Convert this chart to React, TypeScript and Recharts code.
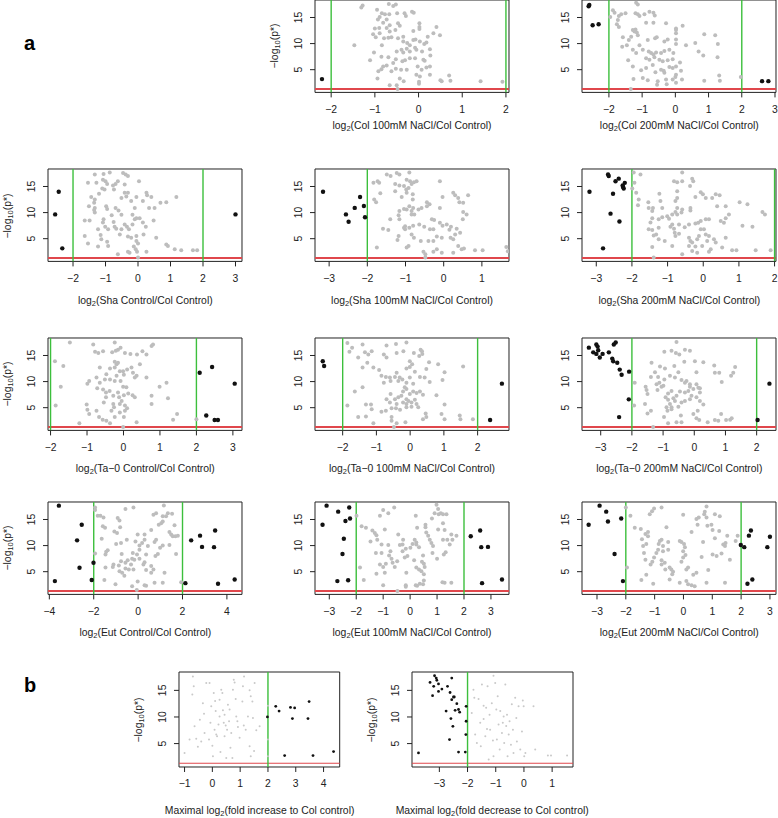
import { ScatterChart, Scatter, XAxis, YAxis, ReferenceLine, ReferenceArea } from "recharts";

type Pt = [number, number];

const yTicks = [5, 10, 15];
const pCutoff = 1.3;
const foldCutoffs = [-2, 2];

// a: Col 100mM NaCl / Col Control
const col100Grey: Pt[] = [
  [-1.28, 17.3], [-1.31, 16.9], [-0.68, 17.6], [-0.58, 17.2], [-0.52, 17.5], [-0.95, 16.5], [-0.84, 15.8], [-0.77, 15.6],
  [-0.89, 15.1], [-0.67, 15.6], [-0.49, 15.8], [-0.32, 15.8], [-0.29, 15.3], [-0.15, 16.1], [-0.11, 15.9], [-0.93, 14.6],
  [-0.73, 14.6], [-0.81, 14.0], [-0.66, 13.5], [-0.9, 13.0], [-0.73, 13.0], [-1.0, 12.9], [-1.04, 11.8], [-0.89, 12.0],
  [-0.66, 12.3], [-0.53, 12.6], [-0.47, 13.9], [-0.43, 13.4], [0.02, 13.9], [0.02, 13.2], [0.02, 12.8], [0.41, 13.2],
  [0.34, 12.0], [0.49, 11.6], [0.21, 11.3], [-0.12, 12.4], [-1.47, 9.7], [-0.98, 11.2], [-0.79, 11.0], [-0.69, 11.1],
  [-0.62, 11.2], [-0.47, 11.0], [-0.35, 11.3], [-0.35, 10.4], [-0.26, 10.1], [-0.2, 9.7], [-0.12, 10.7], [-0.07, 10.8],
  [0.03, 10.4], [0.13, 9.9], [0.18, 10.2], [-0.08, 9.2], [-0.27, 9.0], [-0.39, 8.8], [-0.5, 8.5], [-0.35, 8.3],
  [-0.2, 8.5], [-0.05, 8.8], [0.08, 8.5], [0.26, 8.9], [-1.02, 8.3], [-0.84, 9.7], [-1.11, 6.8], [-0.85, 7.5],
  [-0.69, 7.4], [-0.52, 7.0], [-0.31, 6.8], [-0.2, 7.2], [-0.08, 7.2], [0.11, 6.9], [0.14, 6.7], [0.27, 7.7],
  [-0.37, 6.6], [-0.73, 5.8], [-0.58, 6.3], [-0.81, 5.6], [-0.92, 4.7], [-0.85, 5.1], [-0.62, 4.7], [-0.52, 5.2],
  [-0.4, 5.0], [-0.27, 5.0], [-0.02, 5.6], [0.07, 5.0], [0.18, 5.4], [0.26, 5.6], [-0.05, 4.05], [0.03, 3.7],
  [0.26, 4.05], [-0.94, 3.3], [-0.43, 3.3], [-0.34, 2.8], [0.01, 2.7], [0.01, 2.3], [-0.66, 2.0], [-0.5, 2.0],
  [0.53, 2.8], [0.5, 3.0], [0.7, 3.9], [0.73, 2.9], [1.42, 2.8], [1.92, 2.7], [-0.48, 1.3],
];
const col100Sig: Pt[] = [[-2.21, 3.2]];

// a: Col 200mM NaCl / Col Control
const col200Grey: Pt[] = [
  [-1.88, 16.4], [-1.83, 15.9], [-1.96, 15.1], [-1.7, 15.3], [-1.63, 15.6], [-1.5, 15.8], [-1.73, 14.5], [-1.76, 13.7],
  [-1.7, 13.2], [-1.18, 17.8], [-1.13, 17.5], [-1.2, 15.8], [-1.13, 15.6], [-1.08, 15.3], [-0.93, 15.6], [-0.78, 16.1],
  [-0.66, 15.9], [-0.62, 15.4], [-0.88, 14.0], [-0.66, 14.0], [-0.28, 13.9], [-1.28, 12.6], [-1.2, 12.7], [-1.23, 12.3],
  [-1.16, 12.1], [-1.13, 11.6], [-1.33, 11.3], [-1.58, 11.2], [-1.4, 10.7], [-1.46, 9.7], [-1.6, 9.4], [-1.08, 9.7],
  [-0.83, 10.7], [-0.61, 11.0], [-0.56, 11.2], [-0.33, 10.4], [-0.23, 10.8], [0.02, 12.9], [0.02, 12.6], [0.22, 13.4],
  [0.02, 12.0], [0.02, 10.8], [0.02, 9.9], [0.32, 9.7], [0.6, 10.1], [0.87, 11.8], [1.2, 11.6], [1.28, 9.9],
  [0.7, 8.5], [0.84, 7.7], [1.27, 7.4], [-1.28, 8.8], [-1.18, 8.2], [-0.98, 8.8], [-0.8, 8.5], [-0.73, 8.2],
  [-0.66, 7.9], [-0.58, 8.3], [-0.43, 8.2], [-0.33, 8.6], [-0.18, 8.8], [-0.06, 8.2], [-0.88, 7.2], [-0.78, 6.9],
  [-0.63, 7.4], [-0.48, 6.9], [-0.38, 6.6], [-0.23, 6.8], [-0.08, 7.0], [0.14, 6.4], [-1.42, 6.8], [-1.28, 5.6],
  [-1.03, 4.9], [-0.88, 5.3], [-0.68, 5.9], [-0.6, 4.5], [-0.43, 5.0], [-0.35, 4.8], [-0.33, 4.4], [-0.18, 5.5],
  [-0.08, 5.3], [0.02, 5.6], [0.17, 4.8], [0.02, 4.05], [0.0, 3.6], [-0.08, 3.1], [-1.26, 3.2], [-0.98, 3.4],
  [-0.83, 3.0], [-0.53, 2.8], [-0.28, 3.1], [0.02, 2.5], [-0.26, 2.2], [-0.55, 2.1], [0.2, 3.1], [0.87, 2.9],
  [1.32, 3.9], [1.34, 2.9], [1.97, 3.6], [-1.34, 1.3],
];
const col200Sig: Pt[] = [[-2.61, 17.15], [-2.59, 17.4], [-2.49, 13.5], [-2.31, 13.7], [2.61, 2.8], [2.8, 2.8]];

// a: Sha Control / Col Control
const shaCtrlGrey: Pt[] = [
  [-1.33, 17.3], [-0.87, 17.7], [-1.06, 17.4], [-0.46, 17.6], [-0.38, 17.3], [-0.31, 17.0], [-1.54, 15.7], [-1.28, 15.7],
  [-1.08, 16.3], [-1.0, 16.0], [-0.95, 15.5], [-0.77, 15.2], [-0.62, 16.0], [-0.69, 15.5], [-0.41, 15.4], [0.03, 16.0],
  [-1.1, 14.6], [-1.03, 14.4], [-0.74, 14.4], [-0.41, 13.8], [-0.31, 13.8], [-1.2, 13.6], [-1.44, 13.0], [-1.33, 12.5],
  [-1.35, 11.9], [-1.51, 11.2], [-1.33, 10.9], [-1.35, 10.5], [-1.33, 10.0], [-0.98, 11.2], [-0.95, 10.7], [-0.69, 10.9],
  [-0.6, 10.4], [-0.51, 12.8], [-0.36, 13.1], [-0.21, 12.2], [-0.05, 13.0], [0.15, 12.2], [0.26, 13.8], [0.28, 13.3],
  [0.41, 13.0], [0.69, 11.9], [0.87, 12.0], [1.18, 13.0], [0.51, 10.9], [0.34, 10.9], [-0.1, 10.9], [-0.17, 9.6],
  [-0.51, 9.6], [-0.81, 9.5], [-1.06, 8.7], [-1.49, 8.5], [-1.64, 8.5], [-0.75, 8.2], [-1.08, 8.1], [-0.72, 7.3],
  [-0.41, 7.7], [-0.34, 7.3], [-0.17, 7.7], [-0.1, 8.7], [-0.05, 8.9], [0.05, 8.9], [0.15, 8.1], [0.24, 7.3],
  [0.48, 8.5], [-1.01, 7.3], [-1.23, 6.8], [-0.92, 6.8], [-0.67, 6.9], [-0.51, 6.8], [-0.28, 6.8], [-1.64, 5.5],
  [-1.15, 5.7], [-1.13, 4.9], [-0.56, 5.8], [-0.31, 5.4], [-0.21, 5.2], [-0.05, 5.5], [0.17, 5.8], [0.56, 5.2],
  [-1.54, 4.1], [-1.23, 3.5], [-0.95, 4.4], [-0.92, 3.6], [-0.05, 4.55], [0.0, 4.1], [-0.13, 3.5], [-0.07, 3.0],
  [-0.03, 2.5], [-0.31, 2.5], [-0.26, 2.3], [0.26, 2.5], [-0.62, 2.0], [0.87, 3.9], [0.92, 3.6], [1.13, 3.0],
  [1.33, 2.8], [1.69, 2.8], [1.82, 2.8], [0.0, 1.4],
];
const shaCtrlSig: Pt[] = [[-2.44, 14.0], [-2.55, 9.65], [-2.33, 3.15], [3.0, 9.65]];

// a: Sha 100mM NaCl / Col Control
const sha100Grey: Pt[] = [
  [-1.49, 17.3], [-1.39, 17.0], [-1.23, 17.6], [-1.16, 17.3], [-0.9, 17.7], [-1.84, 15.7], [-1.73, 16.0], [-1.69, 15.7],
  [-1.27, 15.5], [-1.16, 15.2], [-0.97, 16.3], [-0.88, 16.0], [-0.78, 15.8], [-0.71, 16.0], [-0.84, 15.5], [-0.1, 16.0],
  [-1.66, 13.7], [-1.27, 14.1], [-1.04, 15.1], [-0.98, 14.4], [-0.92, 14.7], [-0.97, 13.8], [-0.81, 13.5], [-0.81, 12.5],
  [-1.1, 13.0], [-1.82, 12.5], [-1.77, 12.0], [-0.44, 12.0], [-0.37, 11.6], [-0.44, 11.2], [0.25, 13.8], [0.3, 13.3],
  [0.38, 12.8], [0.41, 12.0], [0.51, 11.9], [0.64, 13.3], [-0.03, 13.0], [0.51, 10.1], [0.6, 9.65], [0.5, 8.7],
  [-0.1, 10.9], [-0.9, 11.2], [-1.04, 10.7], [-0.97, 10.6], [-0.84, 10.3], [-1.16, 10.3], [-0.8, 10.9], [-0.66, 10.6],
  [-0.58, 10.9], [-1.18, 9.5], [-1.4, 8.7], [-1.16, 8.7], [-0.84, 9.65], [-0.77, 9.65], [-1.01, 7.4], [-1.01, 6.8],
  [-1.04, 7.1], [-0.9, 7.1], [-0.8, 7.5], [-0.64, 7.7], [-0.51, 7.3], [-0.36, 6.8], [-0.27, 6.8], [-0.31, 8.7],
  [-0.25, 8.6], [-0.1, 8.05], [-0.03, 7.5], [0.08, 7.7], [0.15, 6.7], [0.19, 7.3], [0.34, 6.9], [0.43, 6.15],
  [0.3, 5.8], [0.25, 4.9], [0.18, 5.2], [-0.05, 5.2], [-0.18, 5.4], [-0.27, 4.55], [-0.4, 4.55], [-0.6, 4.55],
  [-0.78, 5.2], [-0.84, 5.8], [-0.92, 3.6], [-0.97, 3.3], [-1.18, 5.5], [-1.21, 4.75], [-1.45, 6.65], [-1.59, 6.9],
  [-1.75, 3.3], [-0.53, 2.5], [-0.48, 2.0], [-0.27, 2.5], [-0.18, 3.0], [-0.05, 2.3], [0.25, 2.3], [0.38, 3.6],
  [0.47, 3.0], [0.53, 3.1], [0.82, 2.8], [1.02, 2.8], [1.64, 3.4], [1.68, 2.6], [-0.48, 1.4],
];
const sha100Sig: Pt[] = [[-3.16, 14.0], [-2.19, 13.0], [-2.33, 10.9], [-2.56, 9.65], [-2.49, 8.25], [-2.09, 11.25], [-2.06, 9.1]];

// a: Sha 200mM NaCl / Col Control
const sha200Grey: Pt[] = [
  [-1.95, 17.7], [-1.76, 17.3], [-1.99, 14.6], [-1.93, 15.7], [-1.88, 13.8], [-1.81, 12.5], [-1.83, 11.4], [-1.54, 12.0],
  [-1.53, 10.9], [-1.41, 10.9], [-1.43, 10.3], [-1.2, 12.2], [-1.23, 13.6], [-1.15, 10.9], [-1.48, 8.1], [-1.43, 8.9],
  [-1.25, 8.7], [-1.15, 9.1], [-1.01, 9.3], [-0.96, 8.8], [-0.87, 9.65], [-0.78, 10.1], [-0.73, 9.65], [-0.61, 10.0],
  [-0.59, 10.6], [-0.73, 10.9], [-0.78, 12.2], [-0.73, 12.8], [-0.73, 14.1], [-0.82, 16.0], [-0.73, 15.8], [-0.59, 17.7],
  [-0.59, 16.0], [-0.31, 16.5], [-0.28, 16.0], [-0.37, 15.1], [-0.22, 13.0], [-0.36, 10.9], [-0.36, 10.4], [-0.07, 13.9],
  [-0.01, 13.5], [0.07, 12.8], [0.25, 12.8], [0.35, 13.5], [0.46, 13.3], [0.39, 11.2], [0.63, 11.2], [0.72, 9.65],
  [0.49, 8.4], [0.63, 8.9], [0.58, 8.05], [1.02, 12.0], [1.24, 11.6], [1.1, 7.5], [1.38, 7.3], [1.66, 10.1],
  [1.73, 9.65], [-0.22, 7.9], [-0.14, 8.05], [-0.07, 8.4], [0.07, 8.7], [0.16, 8.7], [-0.4, 7.7], [-0.52, 7.2],
  [-0.68, 7.7], [-0.87, 7.7], [-0.92, 7.3], [-0.82, 6.9], [-0.8, 6.15], [-0.68, 5.95], [-0.78, 5.5], [-1.43, 6.65],
  [-1.53, 6.8], [-1.25, 7.1], [-1.32, 5.8], [-1.39, 5.6], [-1.25, 4.9], [-1.08, 4.55], [-0.87, 3.6], [-1.43, 3.4],
  [-1.39, 1.4], [-0.4, 5.2], [-0.36, 4.55], [-0.31, 4.25], [-0.17, 4.9], [-0.12, 5.5], [-0.07, 6.8], [0.02, 6.8],
  [0.07, 5.8], [0.16, 5.5], [0.3, 4.9], [0.35, 4.25], [0.11, 4.55], [-0.03, 3.6], [-0.22, 3.5], [-0.4, 3.6],
  [-0.59, 2.0], [-0.31, 2.65], [-0.17, 2.3], [0.16, 2.5], [0.21, 3.0], [0.53, 3.3], [0.63, 5.2], [0.81, 2.8],
  [0.93, 2.8], [1.47, 2.8], [1.89, 2.8],
];
const sha200Sig: Pt[] = [
  [-3.19, 14.0], [-2.67, 17.3], [-2.65, 17.0], [-2.46, 16.0], [-2.37, 16.5], [-2.2, 15.7], [-2.26, 15.2], [-2.25, 14.9],
  [-2.23, 14.6], [-2.53, 13.6], [-2.6, 9.8], [-2.35, 8.3], [-2.81, 3.15],
];

// a: Ta-0 Control / Col Control
const ta0CtrlGrey: Pt[] = [
  [-1.47, 17.5], [-0.83, 17.1], [-0.24, 17.5], [0.77, 16.8], [0.81, 17.1], [-1.88, 13.9], [-1.65, 13.0], [-1.72, 9.0],
  [-1.86, 5.4], [-0.78, 15.7], [-0.69, 15.5], [-0.56, 15.8], [-0.31, 15.6], [-0.21, 15.9], [-0.15, 16.1], [-0.08, 16.5],
  [0.04, 15.5], [0.19, 15.3], [0.37, 15.2], [0.52, 15.8], [0.63, 15.2], [-0.65, 12.7], [-0.74, 10.8], [-0.94, 10.1],
  [-0.99, 9.6], [-0.72, 8.7], [-0.65, 9.8], [-0.51, 10.4], [-0.37, 10.4], [-0.47, 11.4], [-0.37, 12.5], [-0.24, 13.8],
  [-0.19, 13.3], [-0.15, 13.6], [-0.24, 12.7], [-0.1, 12.0], [-0.01, 12.0], [0.1, 12.3], [0.22, 12.7], [0.26, 11.7],
  [0.01, 11.3], [-0.19, 11.1], [-0.24, 10.1], [-0.08, 10.1], [-0.01, 9.0], [0.08, 8.9], [0.31, 10.8], [0.36, 11.1],
  [0.45, 13.3], [0.63, 10.8], [0.99, 9.0], [1.18, 9.8], [1.22, 6.8], [0.77, 7.3], [0.77, 5.7], [-0.56, 8.5],
  [-0.48, 7.9], [-0.38, 8.2], [-0.28, 7.3], [-0.15, 7.9], [-0.12, 7.0], [-0.05, 6.3], [0.01, 7.4], [0.13, 7.7],
  [0.25, 7.4], [0.31, 7.0], [-1.01, 5.6], [-0.99, 4.6], [-0.94, 3.8], [-0.74, 4.4], [-0.67, 3.2], [-0.54, 6.0],
  [-0.48, 7.0], [-0.28, 5.7], [-0.26, 5.1], [-0.1, 5.7], [0.04, 5.4], [0.1, 4.9], [0.04, 4.4], [-0.1, 4.1],
  [-0.33, 4.4], [-0.47, 2.5], [-0.57, 2.7], [-0.24, 3.2], [0.01, 3.2], [-0.37, 2.0], [-1.21, 2.0], [0.36, 2.2],
  [1.36, 2.7], [1.47, 3.8], [2.0, 2.8], [-0.01, 1.3],
];
const ta0CtrlSig: Pt[] = [[2.09, 11.7], [2.43, 12.8], [3.05, 9.6], [2.27, 3.5], [2.5, 2.65], [2.59, 2.65]];

// a: Ta-0 100mM NaCl / Col Control
const ta0100Grey: Pt[] = [
  [-1.86, 17.4], [-1.72, 16.5], [-1.8, 15.7], [-1.41, 17.1], [-0.7, 16.9], [-0.42, 17.2], [-0.11, 17.5], [-1.34, 15.6],
  [-1.24, 15.2], [-1.14, 15.8], [-1.54, 14.6], [-1.27, 13.6], [-1.41, 12.7], [-1.09, 12.7], [-0.78, 15.2], [-0.7, 14.6],
  [-0.4, 15.5], [-0.2, 15.8], [0.11, 15.5], [0.31, 16.1], [0.35, 15.8], [0.36, 15.3], [0.27, 14.9], [0.56, 13.7],
  [0.83, 13.3], [1.57, 12.9], [-0.01, 13.9], [0.06, 13.3], [-0.01, 12.8], [-0.11, 12.5], [0.14, 11.9], [0.29, 10.9],
  [0.43, 10.8], [0.48, 12.4], [0.58, 9.9], [0.96, 10.3], [1.02, 11.8], [0.78, 7.4], [-0.92, 12.2], [-0.85, 11.1],
  [-0.72, 10.9], [-0.6, 10.8], [-0.78, 9.8], [-0.58, 10.1], [-0.4, 11.7], [-0.45, 10.9], [-0.31, 10.8], [-0.35, 10.1],
  [-0.23, 10.4], [-0.11, 9.8], [-0.01, 10.8], [0.09, 9.6], [-0.16, 8.9], [-0.11, 8.6], [-0.21, 8.1], [-0.01, 7.6],
  [0.09, 8.1], [0.19, 7.8], [0.29, 8.1], [0.38, 7.5], [-0.26, 7.3], [-0.35, 7.0], [-0.45, 6.6], [-0.58, 7.6],
  [-0.7, 6.6], [-0.6, 6.0], [-0.4, 5.7], [-0.21, 6.0], [-0.11, 6.6], [-0.05, 6.3], [0.04, 6.0], [0.14, 6.5],
  [0.19, 5.7], [0.24, 5.1], [0.04, 5.2], [-0.11, 5.7], [-0.55, 4.9], [-0.42, 4.9], [-0.3, 4.6], [-0.11, 5.1],
  [-1.41, 8.9], [-1.64, 8.1], [-1.31, 5.6], [-1.16, 5.6], [-1.14, 4.7], [-0.85, 4.2], [-0.72, 4.4], [-1.86, 5.4],
  [-1.54, 3.2], [-1.31, 3.3], [-1.09, 2.0], [-0.55, 3.2], [-0.55, 2.5], [-0.4, 2.0], [-0.14, 2.2], [0.38, 2.8],
  [0.48, 3.2], [0.46, 3.9], [0.93, 3.8], [1.02, 2.8], [1.02, 5.6], [1.47, 3.5], [1.49, 2.8], [1.86, 2.8],
  [-0.48, 1.3],
];
const ta0100Sig: Pt[] = [[-2.59, 13.9], [-2.55, 13.0], [2.72, 9.6], [2.37, 2.65]];

// a: Ta-0 200mM NaCl / Col Control
const ta0200Grey: Pt[] = [
  [-1.91, 9.8], [-1.93, 5.4], [-1.56, 9.0], [-1.53, 8.4], [-1.5, 7.6], [-1.58, 5.7], [-1.5, 3.9], [-1.39, 4.4],
  [-1.18, 8.4], [-1.21, 9.5], [-1.12, 9.8], [-1.16, 10.9], [-1.39, 10.9], [-1.37, 13.6], [-1.26, 11.8], [-1.05, 9.0],
  [-0.99, 9.2], [-0.84, 7.7], [-0.73, 8.2], [-0.92, 7.0], [-0.84, 6.5], [-0.67, 6.8], [-0.62, 6.3], [-0.78, 5.7],
  [-0.73, 5.1], [-0.73, 4.7], [-0.51, 5.2], [-0.41, 6.0], [-0.57, 7.3], [-0.46, 8.1], [-0.3, 7.9], [-0.19, 8.2],
  [-0.09, 7.3], [-0.03, 8.6], [0.13, 8.8], [0.18, 7.9], [0.07, 7.0], [0.18, 6.3], [0.29, 5.6], [0.11, 4.4],
  [-0.03, 3.8], [-0.43, 3.5], [-0.97, 3.2], [-0.84, 2.0], [-0.57, 2.2], [-0.41, 2.2], [0.07, 3.0], [0.16, 2.65],
  [0.43, 2.2], [0.66, 2.65], [0.77, 2.5], [1.02, 2.65], [1.15, 2.7], [1.2, 3.0], [0.86, 3.8], [-0.96, 15.7],
  [-0.73, 15.9], [-0.59, 15.5], [-0.48, 15.2], [-0.57, 17.6], [-0.3, 16.1], [-0.14, 15.9], [-0.32, 13.8], [0.02, 13.9],
  [0.29, 13.7], [0.64, 13.1], [0.66, 11.7], [0.8, 11.7], [0.88, 9.9], [1.18, 11.1], [1.25, 11.7], [1.31, 12.8],
  [-1.1, 12.9], [-0.94, 12.5], [-0.78, 11.1], [-0.62, 10.8], [-0.41, 10.3], [-0.25, 10.1], [-0.14, 9.5], [0.07, 9.5],
  [0.18, 8.7], [-0.96, 10.4], [-0.64, 13.0], [-0.51, 11.8], [0.07, 11.8], [-0.3, 9.8], [-0.14, 9.0], [-0.3, 6.3],
  [-0.14, 6.6], [-0.89, 5.1], [-0.86, 4.4], [-1.32, 1.3],
];
const ta0200Sig: Pt[] = [
  [-3.38, 16.5], [-3.24, 15.6], [-3.14, 17.1], [-3.1, 16.7], [-3.08, 16.0], [-3.14, 15.3], [-3.03, 14.6], [-2.94, 15.3],
  [-2.74, 15.6], [-2.63, 14.4], [-2.6, 13.9], [-2.58, 17.1], [-2.52, 17.5], [-2.47, 13.6], [-2.39, 12.3], [-2.33, 11.3],
  [-2.09, 11.9], [-2.1, 6.6], [-2.41, 3.2], [2.41, 9.6], [2.03, 2.65],
];

// a: Eut Control / Col Control
const eutCtrlGrey: Pt[] = [
  [-1.94, 17.3], [-1.94, 16.8], [-1.82, 15.7], [-1.7, 15.7], [-1.56, 15.4], [-1.59, 13.7], [-1.49, 13.4], [-1.64, 11.3],
  [-1.94, 8.5], [-1.44, 8.8], [-1.37, 9.1], [-1.07, 12.7], [-0.95, 12.4], [-0.99, 10.3], [-0.92, 15.3], [-0.84, 14.8],
  [-0.81, 13.5], [-0.77, 10.5], [-0.57, 17.0], [-0.21, 17.3], [-0.51, 11.1], [-0.74, 8.4], [-0.77, 7.0], [-0.87, 6.2],
  [-1.11, 6.4], [-1.14, 5.9], [-0.84, 5.1], [-0.72, 4.8], [-0.57, 5.6], [-0.42, 5.4], [-0.21, 5.4], [-0.32, 6.4],
  [-0.57, 6.7], [-0.47, 7.2], [-0.27, 7.5], [-0.17, 7.3], [0.06, 7.5], [-0.05, 8.3], [-0.24, 8.6], [0.06, 9.2],
  [0.06, 10.0], [0.18, 10.5], [0.29, 11.1], [-0.02, 12.1], [-0.12, 10.8], [0.29, 12.1], [0.44, 9.9], [0.36, 8.3],
  [0.29, 6.8], [0.24, 6.4], [0.36, 5.3], [0.59, 6.1], [0.59, 4.8], [0.69, 5.4], [0.78, 8.0], [0.89, 8.4],
  [0.99, 9.6], [1.11, 10.0], [0.74, 10.7], [0.81, 11.1], [0.59, 13.0], [0.69, 15.9], [0.81, 16.2], [0.93, 14.0],
  [1.04, 14.3], [1.11, 14.6], [1.11, 15.6], [1.26, 15.6], [1.16, 17.7], [1.34, 16.2], [1.53, 16.1], [1.41, 12.6],
  [1.49, 12.1], [1.56, 11.8], [1.41, 10.1], [1.68, 11.8], [1.64, 13.9], [1.71, 8.4], [1.79, 11.9], [1.94, 3.0],
  [1.19, 4.8], [1.11, 2.9], [0.74, 2.9], [0.36, 2.3], [0.29, 2.4], [-0.02, 3.1], [-0.27, 2.2], [-0.62, 4.2],
  [-1.02, 2.6], [-1.52, 3.4], [-1.47, 5.8], [-1.47, 8.3], [-0.06, 1.5],
];
const eutCtrlSig: Pt[] = [
  [-3.57, 17.65], [-2.54, 14.0], [-2.75, 11.0], [-2.64, 5.76], [-2.01, 6.7], [-2.09, 3.4], [-3.75, 3.2], [2.39, 11.0],
  [2.79, 11.9], [2.88, 9.75], [3.47, 12.9], [3.42, 9.7], [3.6, 2.7], [4.35, 3.5], [2.13, 2.8],
];

// a: Eut 100mM NaCl / Col Control
const eut100Grey: Pt[] = [
  [-1.99, 15.7], [-1.86, 5.8], [-1.72, 3.4], [-1.8, 13.7], [-1.64, 13.4], [-1.4, 12.9], [-1.31, 12.4], [-1.25, 12.0],
  [-1.47, 10.8], [-1.27, 8.6], [-1.22, 11.1], [-1.12, 15.7], [-1.0, 16.8], [-0.81, 16.2], [-0.59, 17.3], [-0.94, 13.1],
  [-1.06, 10.2], [-1.06, 8.6], [-1.12, 6.4], [-1.25, 4.6], [-1.0, 5.9], [-0.94, 4.8], [-0.9, 6.5], [-0.81, 10.1],
  [-0.73, 8.9], [-0.78, 8.1], [-0.69, 7.5], [-0.65, 6.7], [-0.57, 5.9], [-0.48, 7.0], [-0.44, 12.1], [-0.26, 11.1],
  [-0.28, 10.2], [-0.38, 10.1], [-0.28, 8.9], [-0.16, 9.4], [-0.2, 7.7], [-0.1, 8.0], [-0.14, 4.8], [0.01, 9.6],
  [0.09, 10.3], [0.17, 11.1], [0.23, 10.6], [0.26, 13.4], [0.21, 15.7], [0.23, 10.2], [0.33, 9.7], [0.15, 7.2],
  [0.23, 5.8], [0.33, 5.4], [0.48, 8.1], [0.44, 6.9], [0.51, 6.5], [0.54, 5.9], [0.42, 5.1], [0.51, 4.5],
  [0.57, 14.0], [0.57, 13.5], [0.6, 12.5], [0.67, 11.9], [0.73, 11.1], [0.79, 10.5], [0.85, 9.9], [0.83, 8.6],
  [0.81, 15.2], [0.91, 16.2], [0.98, 17.8], [1.04, 17.0], [1.06, 16.0], [1.14, 16.2], [1.22, 16.0], [1.35, 16.0],
  [1.22, 14.3], [1.28, 13.0], [1.04, 13.1], [1.22, 11.1], [1.25, 8.3], [1.32, 8.7], [1.0, 7.5], [1.38, 11.1],
  [1.47, 10.2], [1.53, 12.1], [1.57, 11.1], [1.72, 11.9], [1.2, 3.0], [1.28, 2.9], [1.53, 2.9], [-0.16, 2.4],
  [0.21, 2.4], [0.36, 2.7], [0.26, 2.3], [0.51, 3.3], [0.48, 2.6], [-1.0, 2.4], [-0.47, 1.3], [-0.16, 2.1],
];
const eut100Sig: Pt[] = [
  [-3.1, 17.65], [-3.25, 14.0], [-2.67, 16.5], [-2.4, 14.7], [-2.26, 17.3], [-2.23, 15.2], [-2.46, 11.3], [-2.51, 8.4],
  [-2.7, 3.2], [-2.3, 3.35], [2.25, 11.8], [2.6, 12.9], [2.64, 9.7], [2.89, 9.75], [2.67, 2.8], [3.41, 3.5],
];

// a: Eut 200mM NaCl / Col Control
const eut200Grey: Pt[] = [
  [-2.0, 17.3], [-1.84, 15.7], [-1.96, 5.8], [-1.69, 13.4], [-1.48, 13.2], [-1.44, 11.2], [-1.4, 9.9], [-1.37, 8.6],
  [-1.46, 3.4], [-1.32, 12.2], [-1.23, 12.6], [-1.23, 11.8], [-1.29, 10.3], [-1.32, 7.3], [-1.29, 4.4], [-1.17, 16.0],
  [-1.09, 16.6], [-1.02, 17.1], [-0.76, 17.3], [-1.08, 6.9], [-1.14, 6.4], [-1.02, 7.7], [-1.05, 2.7], [-0.94, 8.6],
  [-0.88, 9.2], [-0.86, 10.3], [-0.82, 10.9], [-0.76, 11.1], [-0.71, 9.9], [-0.71, 8.9], [-0.76, 7.2], [-0.76, 6.4],
  [-0.65, 6.7], [-0.63, 5.4], [-0.59, 13.5], [-0.53, 10.7], [-0.53, 9.2], [-0.48, 5.8], [-0.48, 3.5], [-0.42, 5.4],
  [-0.36, 5.0], [-0.39, 4.5], [-0.13, 2.9], [-0.13, 10.9], [-0.07, 10.7], [-0.01, 15.9], [0.02, 10.3], [0.05, 9.7],
  [-0.01, 8.9], [-0.01, 7.7], [-0.07, 6.9], [0.07, 8.2], [0.1, 5.4], [0.16, 5.8], [0.1, 3.2], [0.16, 2.6],
  [0.28, 2.4], [0.39, 2.2], [0.28, 12.6], [0.34, 4.4], [0.45, 4.8], [0.49, 14.0], [0.45, 15.1], [0.53, 15.4],
  [0.63, 7.8], [0.68, 10.7], [0.72, 16.0], [0.74, 16.5], [0.8, 17.5], [0.8, 15.4], [0.83, 13.8], [0.8, 2.9],
  [0.86, 5.3], [0.97, 14.0], [1.09, 16.0], [1.01, 13.0], [1.09, 11.4], [1.01, 8.3], [1.15, 8.0], [1.26, 15.6],
  [1.24, 12.8], [1.32, 8.5], [1.38, 10.2], [1.44, 9.9], [1.46, 10.5], [1.52, 11.9], [1.61, 7.3], [1.44, 2.9],
  [1.81, 10.9], [1.88, 11.9],
];
const eut200Sig: Pt[] = [
  [-2.91, 17.65], [-2.68, 16.5], [-2.62, 14.6], [-3.29, 14.0], [-2.16, 15.2], [-2.39, 8.4], [-2.1, 3.2], [1.99, 10.1],
  [2.11, 9.7], [2.27, 11.9], [2.34, 12.9], [2.91, 9.7], [3.0, 11.7], [2.22, 2.7], [2.39, 3.5],
];

// b: maximal fold increase
const maxIncGrey: Pt[] = [
  [-1.0, 3.25], [-0.82, 5.75], [-0.7, 17.6], [-0.67, 15.75], [-0.72, 14.2], [-0.64, 8.25], [-0.58, 5.9], [-0.52, 4.4],
  [-0.4, 5.4], [-0.34, 12.6], [-0.28, 7.0], [-0.22, 16.4], [-0.12, 5.75], [-0.1, 16.4], [-0.04, 12.0], [-0.07, 8.9],
  [0.0, 4.6], [0.02, 2.6], [0.05, 14.5], [0.08, 7.6], [0.12, 11.1], [0.14, 6.7], [0.17, 6.4], [0.22, 8.6],
  [0.26, 13.25], [0.26, 10.1], [0.29, 3.4], [0.32, 15.1], [0.36, 14.5], [0.38, 11.25], [0.41, 8.9], [0.44, 10.4],
  [0.48, 8.4], [0.44, 6.4], [0.5, 2.3], [0.53, 7.6], [0.56, 12.3], [0.6, 9.2], [0.62, 11.4], [0.68, 7.0],
  [0.72, 2.3], [0.74, 15.1], [0.77, 17.0], [0.8, 16.5], [0.84, 13.4], [0.86, 10.1], [0.9, 9.2], [0.92, 8.1],
  [0.98, 6.1], [1.08, 12.9], [1.1, 15.75], [1.13, 8.4], [1.14, 17.6], [1.2, 7.6], [1.28, 10.1], [1.34, 15.0],
  [1.38, 13.9], [1.44, 12.9], [1.46, 9.8], [1.5, 3.6], [1.52, 16.4], [1.58, 7.5], [1.7, 8.25], [1.38, 2.6],
  [1.34, 4.5], [2.0, 2.6], [2.0, 5.75], [2.0, 12.1], [-0.3, 10.6], [0.1, 13.0], [-0.45, 9.5], [0.65, 4.2],
];
const maxIncSig: Pt[] = [
  [1.98, 10.0], [2.28, 12.0], [2.4, 11.1], [2.81, 11.8], [2.96, 11.7], [2.88, 9.7], [3.48, 12.9], [3.44, 9.7],
  [2.6, 2.75], [3.62, 2.75], [4.36, 3.5],
];

// b: maximal fold decrease
const maxDecGrey: Pt[] = [
  [-1.76, 13.6], [-1.61, 13.4], [-1.49, 16.1], [-1.43, 9.6], [-1.37, 6.4], [-1.34, 11.75], [-1.31, 7.75], [-1.29, 15.75],
  [-1.25, 2.0], [-1.22, 10.4], [-1.2, 7.6], [-1.14, 12.6], [-1.1, 5.6], [-1.08, 2.6], [-1.08, 17.75], [-1.02, 16.4],
  [-0.98, 11.4], [-0.93, 13.9], [-0.9, 8.6], [-0.86, 3.9], [-0.84, 11.1], [-0.78, 7.0], [-0.75, 8.9], [-0.7, 5.1],
  [-0.66, 16.1], [-0.63, 8.3], [-0.6, 10.4], [-0.58, 2.6], [-0.54, 6.7], [-0.51, 9.2], [-0.46, 4.8], [-0.43, 12.4],
  [-0.39, 7.6], [-0.37, 3.25], [-0.31, 13.6], [-0.27, 9.8], [-0.25, 5.4], [-0.19, 12.0], [-0.13, 3.9], [-0.07, 7.25],
  [-0.04, 13.1], [-0.01, 12.0], [0.01, 2.6], [0.05, 3.25], [0.4, 3.9], [0.85, 2.75], [0.96, 2.75], [1.53, 2.75],
  [-1.85, 10.75], [-1.73, 6.7], [-1.67, 5.1], [-1.55, 8.9], [-1.53, 4.5], [-1.43, 12.1], [-1.79, 15.1], [-0.72, 10.1],
  [-0.96, 5.75], [0.34, 12.0],
];
const maxDecSig: Pt[] = [
  [-3.74, 3.25], [-3.17, 17.75], [-3.11, 17.3], [-3.09, 16.9], [-3.33, 16.5], [-3.2, 15.75], [-3.03, 16.2], [-2.91, 15.25],
  [-3.03, 14.8], [-3.24, 14.0], [-2.71, 15.75], [-2.56, 17.3], [-2.62, 14.6], [-2.56, 13.25], [-2.47, 13.75], [-2.5, 13.75],
  [-2.38, 12.5], [-2.32, 11.4], [-2.28, 10.9], [-2.44, 11.25], [-2.76, 11.1], [-2.59, 9.7], [-2.52, 8.25], [-2.64, 5.75],
  [-2.32, 3.4], [-2.08, 3.4], [-2.05, 12.0], [-2.05, 9.2], [-2.06, 6.7],
];

const FONT = '"Liberation Sans", Arial, Helvetica, sans-serif';
const FS = 10.4;

type PanelDef = {
  x: number; y: number; w: number; h: number;
  xDomain: [number, number];
  yDomain: [number, number];
  xTicks: number[];
  grey: Pt[]; sig: Pt[];
  title: string; prefix?: string;
  showY?: boolean; small?: boolean; titleGap: number;
};

const W = 194;
const H = 92.4;
const C1 = 48.3, C2 = 315, C3 = 582.3;
const R1 = 0, R2 = 169.3, R3 = 337.7, R4 = 502;
const YD: [number, number] = [0.65, 18.35];

const panels: PanelDef[] = [
  { x: C2, y: R1, w: W, h: H, xDomain: [-2.37, 2.07], yDomain: YD, xTicks: [-2, -1, 0, 1, 2], grey: col100Grey, sig: col100Sig, title: "Col 100mM NaCl/Col Control", showY: true, titleGap: 34 },
  { x: C3, y: R1, w: W, h: H, xDomain: [-2.81, 3.03], yDomain: YD, xTicks: [-2, -1, 0, 1, 2, 3], grey: col200Grey, sig: col200Sig, title: "Col 200mM NaCl/Col Control", titleGap: 34 },
  { x: C1, y: R2, w: W, h: H, xDomain: [-2.77, 3.2], yDomain: YD, xTicks: [-2, -1, 0, 1, 2, 3], grey: shaCtrlGrey, sig: shaCtrlSig, title: "Sha Control/Col Control", showY: true, titleGap: 39 },
  { x: C2, y: R2, w: W, h: H, xDomain: [-3.37, 1.71], yDomain: YD, xTicks: [-3, -2, -1, 0, 1], grey: sha100Grey, sig: sha100Sig, title: "Sha 100mM NaCl/Col Control", titleGap: 39 },
  { x: C3, y: R2, w: W, h: H, xDomain: [-3.4, 2.04], yDomain: YD, xTicks: [-3, -2, -1, 0, 1, 2], grey: sha200Grey, sig: sha200Sig, title: "Sha 200mM NaCl/Col Control", titleGap: 39 },
  { x: C1, y: R3, w: W, h: H, xDomain: [-2.07, 3.25], yDomain: YD, xTicks: [-2, -1, 0, 1, 2, 3], grey: ta0CtrlGrey, sig: ta0CtrlSig, title: "Ta\u22120 Control/Col Control", showY: true, titleGap: 39 },
  { x: C2, y: R3, w: W, h: H, xDomain: [-2.82, 2.93], yDomain: YD, xTicks: [-2, -1, 0, 1, 2], grey: ta0100Grey, sig: ta0100Sig, title: "Ta\u22120 100mM NaCl/Col Control", titleGap: 39 },
  { x: C3, y: R3, w: W, h: H, xDomain: [-3.6, 2.62], yDomain: YD, xTicks: [-3, -2, -1, 0, 1, 2], grey: ta0200Grey, sig: ta0200Sig, title: "Ta\u22120 200mM NaCl/Col Control", titleGap: 39 },
  { x: C1, y: R4, w: W, h: H, xDomain: [-4.06, 4.68], yDomain: YD, xTicks: [-4, -2, 0, 2, 4], grey: eutCtrlGrey, sig: eutCtrlSig, title: "Eut Control/Col Control", showY: true, titleGap: 39 },
  { x: C2, y: R4, w: W, h: H, xDomain: [-3.53, 3.67], yDomain: YD, xTicks: [-3, -2, -1, 0, 1, 2, 3], grey: eut100Grey, sig: eut100Sig, title: "Eut 100mM NaCl/Col Control", titleGap: 39 },
  { x: C3, y: R4, w: W, h: H, xDomain: [-3.52, 3.21], yDomain: YD, xTicks: [-3, -2, -1, 0, 1, 2, 3], grey: eut200Grey, sig: eut200Sig, title: "Eut 200mM NaCl/Col Control", titleGap: 39 },
  { x: 179.3, y: 672.3, w: 160.7, h: 95, xDomain: [-1.2, 4.58], yDomain: [0.6, 18.45], xTicks: [-1, 0, 1, 2, 3, 4], grey: maxIncGrey, sig: maxIncSig, title: "fold increase to Col control", prefix: "Maximal ", showY: true, small: true, titleGap: 44 },
  { x: 411.7, y: 672.3, w: 161, h: 95, xDomain: [-3.97, 1.74], yDomain: [0.6, 18.45], xTicks: [-3, -2, -1, 0, 1], grey: maxDecGrey, sig: maxDecSig, title: "fold decrease to Col control", prefix: "Maximal ", showY: true, small: true, titleGap: 44 },
];

const fmt = (v: number) => (v < 0 ? "\u2212" + Math.abs(v) : String(v));

function YTick(props: any) {
  const { x, y, payload } = props;
  return (
    <text transform={`translate(${x - 4},${y}) rotate(-90)`} textAnchor="middle" fontSize={FS} fill="#222" fontFamily={FONT}>
      {payload.value}
    </text>
  );
}

const ML = 50, MT = 6, MR = 8, MB = 50;

function Panel({ p }: { p: PanelDef }) {
  const grey = p.grey.map(([x, y]) => ({ x, y }));
  const sig = p.sig.map(([x, y]) => ({ x, y }));
  const rg = p.small ? 1 : 2;
  const rs = p.small ? 1.4 : 2.2;
  const greyFill = p.small ? "#c9c9c9" : "#bdbdbd";
  return (
    <>
      <div style={{ position: "absolute", left: p.x - ML, top: p.y - MT }}>
        <ScatterChart width={p.w + ML + MR} height={p.h + MT + MB} margin={{ top: MT, right: MR, left: 10, bottom: 10 }}>
          <XAxis
            type="number"
            dataKey="x"
            domain={p.xDomain}
            allowDataOverflow
            ticks={p.xTicks}
            interval={0}
            tickFormatter={fmt}
            height={40}
            axisLine={false}
            tickSize={5}
            tickMargin={8}
            tickLine={{ stroke: "#222" }}
            tick={{ fontSize: FS, fill: "#222", fontFamily: FONT }}
          />
          <YAxis
            type="number"
            dataKey="y"
            domain={p.yDomain}
            allowDataOverflow
            ticks={yTicks}
            interval={0}
            width={40}
            axisLine={false}
            tickSize={5}
            tickMargin={4}
            tickLine={{ stroke: "#222" }}
            tick={<YTick />}
          />
          <ReferenceLine y={pCutoff} stroke="#e0474c" strokeWidth={p.small ? 1.2 : 1.8} />
          {foldCutoffs.map((c) => (
            <ReferenceLine key={c} x={c} stroke="#3cbf3c" strokeWidth={1.4} />
          ))}
          <Scatter
            data={grey}
            isAnimationActive={false}
            shape={(s: any) => <circle cx={s.cx} cy={s.cy} r={rg} fill={greyFill} />}
          />
          <Scatter
            data={sig}
            isAnimationActive={false}
            shape={(s: any) => <circle cx={s.cx} cy={s.cy} r={rs} fill="#111" />}
          />
          <ReferenceArea
            x1={p.xDomain[0]}
            x2={p.xDomain[1]}
            y1={p.yDomain[0]}
            y2={p.yDomain[1]}
            fill="none"
            fillOpacity={0}
            stroke="#222"
            strokeWidth={1}
            ifOverflow="visible"
          />
        </ScatterChart>
      </div>
      <div
        style={{
          position: "absolute",
          left: p.x - 80,
          width: p.w + 160,
          top: p.y + p.h + p.titleGap - 8,
          height: 16,
          lineHeight: "16px",
          textAlign: "center",
          fontSize: FS,
          fontFamily: FONT,
          color: "#222",
          whiteSpace: "nowrap",
        }}
      >
        {p.prefix}log<span style={{ fontSize: "0.72em", verticalAlign: "-0.3em" }}>2</span>({p.title})
      </div>
      {p.showY && (
        <div
          style={{
            position: "absolute",
            left: p.x - 40 - 50,
            top: p.y + p.h / 2 - 8,
            width: 100,
            height: 16,
            lineHeight: "16px",
            textAlign: "center",
            fontSize: FS,
            fontFamily: FONT,
            color: "#222",
            transform: "rotate(-90deg)",
            whiteSpace: "nowrap",
          }}
        >
          {"\u2212"}log<span style={{ fontSize: "0.72em", verticalAlign: "-0.3em" }}>10</span>(p*)
        </div>
      )}
    </>
  );
}

export default function App() {
  return (
    <div style={{ position: "absolute", left: 0, top: 0, width: 778, height: 818, overflow: "hidden", background: "#fff" }}>
      <div style={{ position: "absolute", left: 24, top: 32, fontFamily: FONT, fontWeight: "bold", fontSize: 20 }}>a</div>
      <div style={{ position: "absolute", left: 24, top: 674, fontFamily: FONT, fontWeight: "bold", fontSize: 20 }}>b</div>
      {panels.map((p, i) => (
        <Panel key={i} p={p} />
      ))}
    </div>
  );
}
